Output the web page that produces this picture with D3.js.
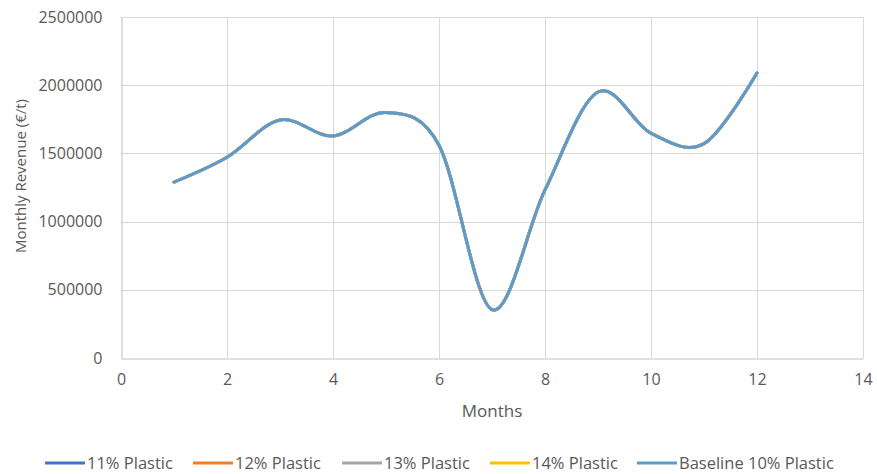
<!DOCTYPE html>
<html>
<head>
<meta charset="utf-8">
<script src="https://cdn.jsdelivr.net/npm/d3@7"></script>
<style>
  html, body { margin: 0; padding: 0; background: #fff; }
  svg { display: block; font-family: "Open Sans", "Noto Sans", sans-serif; }
</style>
</head>
<body>
<svg id="chart" width="877" height="474"></svg>
<script>
// Months 1..12 and monthly revenue per plastic share scenario (€/t)
const months = [1, 2, 3, 4, 5, 6, 7, 8, 9, 10, 11, 12];
const plastic11 = [1290000, 1472000, 1745000, 1628000, 1800000, 1560000, 355000, 1232000, 1950000, 1648000, 1572000, 2090000];
const plastic12 = [1290000, 1472000, 1745000, 1628000, 1800000, 1560000, 355000, 1232000, 1950000, 1648000, 1572000, 2090000];
const plastic13 = [1290000, 1472000, 1745000, 1628000, 1800000, 1560000, 355000, 1232000, 1950000, 1648000, 1572000, 2090000];
const plastic14 = [1290000, 1472000, 1745000, 1628000, 1800000, 1560000, 355000, 1232000, 1950000, 1648000, 1572000, 2090000];
const baseline10 = [1290000, 1472000, 1745000, 1628000, 1800000, 1560000, 355000, 1232000, 1950000, 1648000, 1572000, 2090000];

const seriesNames = ["11% Plastic", "12% Plastic", "13% Plastic", "14% Plastic", "Baseline 10% Plastic"];
const seriesColors = ["#4472C4", "#ED7D31", "#A5A5A5", "#FFC000", "#5B9BD5"];
const seriesValues = [plastic11, plastic12, plastic13, plastic14, baseline10];

const xTicks = [0, 2, 4, 6, 8, 10, 12, 14];
const yTicks = [0, 500000, 1000000, 1500000, 2000000, 2500000];

const svg = d3.select("#chart");
const plotLeft = 121, plotRight = 863, plotTop = 17, plotBottom = 358;

const x = d3.scaleLinear().domain([0, 14]).range([plotLeft, plotRight]);
const y = d3.scaleLinear().domain([0, 2500000]).range([plotBottom, plotTop]);

const textColor = "#595959";
const gridColor = "#D9D9D9";

// Gridlines
const grid = svg.append("g");
grid.selectAll("line.h").data(yTicks.filter(d => d > 0)).enter().append("line")
  .attr("x1", plotLeft).attr("x2", plotRight)
  .attr("y1", d => Math.round(y(d)) + 0.5).attr("y2", d => Math.round(y(d)) + 0.5)
  .attr("stroke", gridColor).attr("stroke-width", 1);
grid.selectAll("line.v").data(xTicks.filter(d => d > 0)).enter().append("line")
  .attr("x1", d => Math.round(x(d)) + 0.5).attr("x2", d => Math.round(x(d)) + 0.5)
  .attr("y1", plotTop).attr("y2", plotBottom)
  .attr("stroke", gridColor).attr("stroke-width", 1);

// Axes
const xAxis = d3.axisBottom(x).tickValues(xTicks).tickSize(0).tickPadding(15);
const gx = svg.append("g").attr("transform", `translate(0,${plotBottom + 0.5})`).call(xAxis);
gx.select(".domain").attr("stroke", "#BFBFBF");
gx.selectAll("text").attr("fill", textColor).style("font-size", "16px")
  .style("font-family", "'Open Sans', sans-serif");

const yAxis = d3.axisLeft(y).tickValues(yTicks).tickSize(0).tickPadding(19).tickFormat(d3.format("d"));
const gy = svg.append("g").attr("transform", `translate(${plotLeft + 0.5},0)`).call(yAxis);
gy.select(".domain").attr("stroke", "#BFBFBF");
gy.selectAll("text").attr("fill", textColor).style("font-size", "16px")
  .style("font-family", "'Open Sans', sans-serif");

// Axis titles
svg.append("text").attr("x", 492).attr("y", 417)
  .attr("text-anchor", "middle").attr("fill", textColor).style("font-size", "17px").text("Months");
svg.append("text").attr("transform", `translate(26,176) rotate(-90)`)
  .attr("text-anchor", "middle").attr("fill", textColor).style("font-size", "15px").text("Monthly Revenue (€/t)");

// Smoothed series lines
const line = d3.line()
  .x((d, i) => x(months[i]))
  .y(d => y(d))
  .curve(d3.curveCatmullRom.alpha(0));

seriesValues.forEach((vals, k) => {
  svg.append("path").datum(vals)
    .attr("d", line)
    .attr("fill", "none")
    .attr("stroke", seriesColors[k])
    .attr("stroke-width", 3)
    .attr("stroke-linecap", "round");
});

// Legend
const legendX = [45, 193, 342, 490, 637];
const legend = svg.append("g");
seriesNames.forEach((name, k) => {
  const g = legend.append("g").attr("transform", `translate(${legendX[k]},463)`);
  g.append("line").attr("x1", 0).attr("x2", 40).attr("y1", 0).attr("y2", 0)
    .attr("stroke", seriesColors[k]).attr("stroke-width", 3);
  g.append("text").attr("x", 42).attr("y", 6).attr("fill", textColor)
    .style("font-size", "16.5px").text(name);
});
</script>
</body>
</html>
